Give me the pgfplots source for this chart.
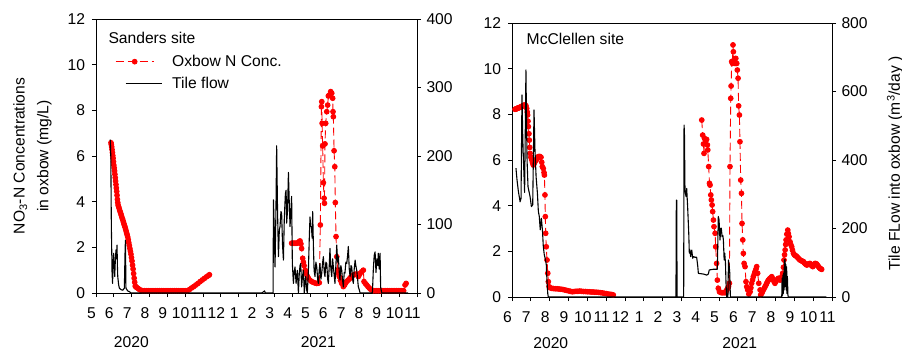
\documentclass[border=0pt]{standalone}
\usepackage{fontspec}
\setmainfont{Liberation Sans}
\usepackage{pgfplots}
\pgfplotsset{compat=1.18}
\newcommand{\fs}{\fontsize{15.7}{18}\selectfont}
\pgfplotsset{
  base/.style={
    scale only axis, height=274bp, clip=false,
    font=\fs, tick label style={font=\fs},
    /pgf/number format/assume math mode=true,
    tick align=outside, major tick length=4bp,
    axis line style={black, line width=0.8pt},
    every tick/.style={black, line width=0.8pt},
    xticklabel style={xshift=-4.5bp, yshift=-7bp},
  },
  redser/.style={red, line width=0.9pt, dash pattern=on 8bp off 4bp, mark=*, mark size=2.4pt, mark options={solid, fill=red, draw=red}},
  blkser/.style={black, line width=1.1pt, line join=round},
  legend image code/.code={\draw[mark repeat=2,mark phase=2,#1] plot coordinates {(0bp,0bp) (19bp,0bp) (38bp,0bp)}; \path (0bp,0bp) (46bp,0bp);},
  tileleg/.style={legend image code/.code={\draw[black, line width=1.1pt] (10bp,0bp)--(46bp,0bp); \path (0bp,0bp) (46bp,0bp);}},
}
\begin{document}
\begin{tikzpicture}
\useasboundingbox (0,0) rectangle (902bp,351bp);
% ---------------- Left panel (Sanders) ----------------
\begin{axis}[base, at={(96bp,58bp)}, anchor=south west, width=321bp,
  xmin=5, xmax=23, ymin=0, ymax=12,
  xtick={5,...,23}, xticklabels={5,6,7,8,9,10,11,12,1,2,3,4,5,6,7,8,9,10,11},
  ytick={0,2,...,12}, xtick pos=left, ytick pos=left,
  yticklabel style={xshift=-3.5bp},
  legend cell align=left,
  legend style={draw=none, fill=none, at={(axis description cs:0.050,0.883)}, anchor=north west, row sep=5bp, column sep=8bp, font=\fs},
]
\addplot[redser, forget plot] coordinates {(5.84,6.58)(5.86,6.50)(5.88,6.40)(5.90,6.28)(5.92,6.15)(5.94,6.02)(5.96,5.90)(5.98,5.75)(6.00,5.60)(6.02,5.48)(6.04,5.35)(6.06,5.20)(6.08,5.05)(6.10,4.90)(6.12,4.75)(6.14,4.60)(6.16,4.45)(6.18,4.28)(6.20,4.10)(6.22,3.96)(6.24,3.85)(6.27,3.78)(6.30,3.70)(6.33,3.62)(6.36,3.55)(6.39,3.48)(6.42,3.40)(6.45,3.32)(6.48,3.25)(6.51,3.18)(6.54,3.10)(6.57,3.02)(6.60,2.95)(6.63,2.88)(6.66,2.80)(6.69,2.71)(6.72,2.62)(6.75,2.54)(6.78,2.45)(6.81,2.33)(6.84,2.20)(6.87,2.08)(6.90,1.95)(6.93,1.83)(6.96,1.70)(6.99,1.55)(7.02,1.40)(7.05,1.22)(7.08,1.05)(7.11,0.85)(7.14,0.65)(7.17,0.47)(7.20,0.30)(7.24,0.27)(7.28,0.24)(7.36,0.20)(7.44,0.15)(7.52,0.12)(7.60,0.10)(7.72,0.10)(7.84,0.10)(7.96,0.10)(8.08,0.10)(8.20,0.10)(8.32,0.10)(8.44,0.10)(8.56,0.10)(8.68,0.10)(8.80,0.10)(8.92,0.10)(9.04,0.10)(9.16,0.10)(9.28,0.10)(9.40,0.10)(9.52,0.10)(9.64,0.10)(9.76,0.10)(9.88,0.10)(10.00,0.10)(10.12,0.10)(10.24,0.15)(10.36,0.22)(10.48,0.28)(10.60,0.35)(10.72,0.42)(10.84,0.50)(10.96,0.57)(11.08,0.64)(11.20,0.71)(11.30,0.76)(11.36,0.80)};
\addplot[redser, forget plot] coordinates {(15.97,2.18)(16.03,2.18)(16.09,2.18)(16.15,2.18)(16.21,2.18)(16.27,2.18)(16.33,2.20)(16.39,2.25)(16.44,2.28)(16.49,2.15)(16.53,1.95)(16.59,1.52)(16.63,1.35)(16.67,1.20)(16.73,1.00)(16.78,0.86)(16.84,0.75)(16.91,0.65)(17.00,0.56)(17.09,0.50)(17.18,0.47)(17.27,0.44)(17.38,0.42)(17.45,0.43)(17.52,0.45)(17.58,2.98)(17.64,8.16)(17.66,8.38)(17.68,7.43)(17.71,6.44)(17.75,4.83)(17.79,4.15)(17.81,3.93)(17.84,6.53)(17.88,7.43)(17.94,7.94)(17.99,8.23)(18.03,8.63)(18.09,8.67)(18.16,8.82)(18.22,8.75)(18.27,8.53)(18.29,7.94)(18.31,7.72)(18.35,6.23)(18.39,5.53)(18.42,3.96)(18.46,2.47)(18.50,1.59)(18.55,1.01)(18.60,0.85)(18.64,0.72)(18.71,0.55)(18.78,0.42)(18.87,0.28)(18.94,0.35)(19.01,0.45)(19.08,0.52)(19.15,0.57)(19.22,0.63)(19.29,0.70)(19.36,0.75)(19.43,0.79)(19.53,0.82)(19.62,0.83)(19.71,0.72)(19.76,0.80)(19.81,0.86)(19.90,0.93)(19.99,1.00)(20.03,0.50)(20.10,0.42)(20.18,0.35)(20.25,0.28)(20.32,0.22)(20.39,0.17)(20.46,0.13)(20.55,0.10)(20.65,0.10)(20.75,0.10)(20.85,0.10)(20.95,0.10)(21.05,0.10)(21.15,0.10)(21.25,0.10)(21.35,0.10)(21.45,0.10)(21.55,0.10)(21.65,0.10)(21.75,0.10)(21.85,0.10)(21.95,0.10)(22.05,0.10)(22.15,0.10)(22.25,0.10)(22.33,0.35)(22.39,0.42)};
\addlegendimage{redser}
\addlegendentry{Oxbow N Conc.}
\addlegendimage{tileleg}
\addlegendentry{Tile flow}
\node[anchor=base west, font=\fs] at (axis description cs:0.028,0.911) {Sanders site};
\node[rotate=90, align=center, font=\fs] at (axis description cs:-0.198,0.5) {NO\textsubscript{3}-N Concentrations\\[6bp]in oxbow (mg/L)};
\node[font=\fs] at (axis cs:6.98,0) [yshift=-49bp] {2020};
\node[font=\fs] at (axis cs:17.47,0) [yshift=-49bp] {2021};
\end{axis}
\begin{axis}[base, at={(96bp,58bp)}, anchor=south west, width=321bp,
  xmin=5, xmax=23, ymin=0, ymax=400, ytick={0,100,...,400},
  axis y line*=right, axis x line=none,
  yticklabel style={xshift=2bp},
]
\addplot[blkser] coordinates {(5.80,224)(5.83,200)(5.86,100)(5.90,30)(5.93,14)(5.96,45)(5.99,58)(6.02,38)(6.05,24)(6.08,45)(6.12,63)(6.15,50)(6.18,70)(6.20,40)(6.22,24)(6.27,12)(6.31,7)(6.40,5)(6.50,4)(6.59,7)(6.63,60)(6.65,77)(6.67,30)(6.68,7)(6.78,3)(6.87,2)(6.96,0)(14.30,0)(14.40,2)(14.45,3)(14.50,0)(14.93,0)(14.95,136)(15.00,90)(15.04,38)(15.09,120)(15.13,215)(15.18,120)(15.23,53)(15.28,92)(15.32,97)(15.37,119)(15.41,116)(15.46,70)(15.51,48)(15.56,110)(15.62,145)(15.66,150)(15.69,102)(15.74,120)(15.79,176)(15.84,130)(15.88,97)(15.93,120)(15.97,141)(16.01,43)(16.07,14)(16.11,30)(16.16,38)(16.22,14)(16.26,25)(16.29,33)(16.35,0)(16.40,29)(16.44,40)(16.48,43)(16.53,9)(16.58,25)(16.63,33)(16.68,0)(16.72,15)(16.76,24)(16.81,5)(16.85,0)(16.91,33)(16.96,80)(17.00,111)(17.04,97)(17.08,97)(17.12,80)(17.15,119)(17.19,70)(17.23,33)(17.28,24)(17.33,45)(17.38,38)(17.43,20)(17.47,14)(17.52,35)(17.56,43)(17.61,20)(17.66,29)(17.71,45)(17.75,53)(17.80,30)(17.84,24)(17.89,45)(17.94,43)(17.99,20)(18.03,14)(18.08,40)(18.12,65)(18.17,35)(18.22,24)(18.27,50)(18.31,38)(18.36,25)(18.40,14)(18.45,40)(18.50,70)(18.55,45)(18.59,53)(18.64,30)(18.68,19)(18.73,40)(18.78,33)(18.82,20)(18.87,9)(18.92,30)(18.96,29)(19.01,45)(19.06,43)(19.11,55)(19.15,68)(19.20,35)(19.25,24)(19.30,40)(19.34,38)(19.39,20)(19.43,14)(19.48,35)(19.53,48)(19.57,40)(19.62,33)(19.67,20)(19.71,9)(19.76,5)(19.81,0)(20.50,0)(20.55,34)(20.60,55)(20.65,60)(20.70,30)(20.75,50)(20.80,40)(20.83,58)(20.88,35)(20.93,58)(20.96,9)(21.02,0)(22.50,0)};
\end{axis}
% ---------------- Right panel (McClellen) ----------------
\begin{axis}[base, at={(512bp,54bp)}, anchor=south west, width=320bp,
  xmin=6, xmax=23, ymin=0, ymax=12,
  xtick={6,...,23}, xticklabels={6,7,8,9,10,11,12,1,2,3,4,5,6,7,8,9,10,11},
  ytick={0,2,...,12}, xtick pos=left, ytick pos=left,
  yticklabel style={xshift=-3.5bp},
]
\addplot[redser] coordinates {(6.16,8.22)(6.19,8.23)(6.22,8.24)(6.25,8.25)(6.28,8.26)(6.31,8.27)(6.34,8.28)(6.37,8.29)(6.40,8.30)(6.43,8.31)(6.46,8.32)(6.49,8.33)(6.52,8.35)(6.55,8.36)(6.58,8.38)(6.61,8.39)(6.64,8.40)(6.69,8.41)(6.74,8.38)(6.78,8.26)(6.81,8.10)(6.83,7.97)(6.85,7.70)(6.87,7.46)(6.90,7.15)(6.92,6.87)(6.94,6.55)(6.96,6.29)(7.00,6.12)(7.05,6.00)(7.09,5.88)(7.13,5.78)(7.18,5.85)(7.22,5.93)(7.27,5.98)(7.31,6.03)(7.36,6.10)(7.40,6.15)(7.45,6.15)(7.49,6.15)(7.54,6.12)(7.58,5.90)(7.61,5.71)(7.66,5.63)(7.70,5.45)(7.72,5.34)(7.75,4.47)(7.77,3.52)(7.79,2.79)(7.82,2.20)(7.86,1.62)(7.90,1.04)(7.93,0.67)(7.97,0.45)(8.04,0.40)(8.11,0.38)(8.2,0.37)(8.3,0.36)(8.4,0.36)(8.5,0.35)(8.6,0.34)(8.7,0.33)(8.8,0.31)(8.9,0.29)(9.0,0.27)(9.1,0.25)(9.2,0.23)(9.3,0.24)(9.4,0.25)(9.5,0.25)(9.6,0.26)(9.7,0.25)(9.8,0.24)(9.9,0.24)(10.0,0.23)(10.1,0.23)(10.2,0.22)(10.3,0.22)(10.4,0.21)(10.5,0.21)(10.6,0.20)(10.7,0.19)(10.8,0.18)(10.9,0.16)(11.0,0.15)(11.1,0.13)(11.2,0.12)(11.3,0.11)(11.38,0.09)};
\addplot[redser] coordinates {(16.08,7.75)(16.13,7.09)(16.17,6.70)(16.20,6.29)(16.22,6.95)(16.26,6.73)(16.29,6.87)(16.34,6.90)(16.38,6.66)(16.40,6.44)(16.45,5.71)(16.49,4.98)(16.52,4.90)(16.56,4.47)(16.59,4.25)(16.63,4.03)(16.66,3.74)(16.70,3.37)(16.73,3.08)(16.79,2.79)(16.82,2.20)(16.87,1.47)(16.91,0.74)(16.96,0.38)(17.02,0.23)(17.08,0.20)(17.14,0.19)(17.20,0.19)(17.26,0.19)(17.32,0.19)(17.37,0.25)(17.41,0.31)(17.46,0.38)(17.50,0.45)(17.55,0.60)(17.58,5.71)(17.62,8.70)(17.64,9.24)(17.67,10.31)(17.71,10.23)(17.74,11.04)(17.76,10.74)(17.80,10.38)(17.85,10.23)(17.89,10.45)(17.94,10.23)(17.97,9.94)(18.01,9.58)(18.04,8.37)(18.08,7.97)(18.11,6.80)(18.15,5.12)(18.19,4.54)(18.22,3.22)(18.26,2.50)(18.29,1.91)(18.33,1.47)(18.38,1.33)(18.43,0.67)(18.47,0.45)(18.52,0.31)(18.58,0.13)(18.65,0.23)(18.69,0.40)(18.73,0.60)(18.78,0.75)(18.82,0.89)(18.87,1.00)(18.91,1.11)(18.96,1.22)(19.00,1.33)(19.05,1.04)(19.11,0.60)(19.18,0.31)(19.21,0.09)(19.27,0.16)(19.31,0.24)(19.35,0.31)(19.40,0.38)(19.44,0.45)(19.49,0.52)(19.53,0.60)(19.58,0.68)(19.62,0.74)(19.67,0.78)(19.71,0.82)(19.76,0.85)(19.80,0.89)(19.85,0.80)(19.89,0.74)(19.93,0.66)(19.97,0.60)(20.02,0.68)(20.06,0.74)(20.11,0.78)(20.15,0.82)(20.20,0.78)(20.24,0.74)(20.29,0.80)(20.33,0.89)(20.38,1.04)(20.42,1.30)(20.45,1.62)(20.48,1.85)(20.51,2.06)(20.54,2.30)(20.56,2.50)(20.60,2.75)(20.65,2.93)(20.68,2.78)(20.72,2.64)(20.77,2.42)(20.81,2.30)(20.86,2.20)(20.90,2.05)(20.95,1.91)(21.00,1.85)(21.04,1.82)(21.09,1.80)(21.13,1.77)(21.17,1.73)(21.22,1.69)(21.26,1.65)(21.30,1.62)(21.35,1.60)(21.39,1.58)(21.44,1.56)(21.48,1.55)(21.52,1.50)(21.57,1.46)(21.61,1.43)(21.66,1.40)(21.70,1.42)(21.75,1.45)(21.79,1.46)(21.83,1.47)(21.87,1.42)(21.92,1.37)(21.98,1.33)(22.02,1.38)(22.06,1.43)(22.10,1.47)(22.15,1.46)(22.19,1.44)(22.24,1.38)(22.28,1.33)(22.33,1.28)(22.37,1.25)(22.41,1.23)(22.45,1.21)};
\node[anchor=base west, font=\fs] at (axis description cs:0.035,0.922) {McClellen site};
\node[font=\fs] at (axis cs:8.06,0) [yshift=-46.5bp] {2020};
\node[font=\fs] at (axis cs:18.10,0) [yshift=-46bp] {2021};
\end{axis}
\begin{axis}[base, at={(512bp,54bp)}, anchor=south west, width=320bp,
  xmin=6, xmax=23, ymin=0, ymax=800, ytick={0,200,...,800},
  axis y line*=right, axis x line=none,
  yticklabel style={xshift=2bp},
]
\addplot[blkser] coordinates {(6.21,376)(6.27,340)(6.34,308)(6.43,278)(6.48,288)(6.53,590)(6.57,470)(6.60,410)(6.67,305)(6.74,663)(6.77,520)(6.80,400)(6.85,322)(6.96,293)(7.03,264)(7.10,269)(7.17,546)(7.22,429)(7.28,351)(7.35,303)(7.40,250)(7.45,235)(7.50,196)(7.56,230)(7.62,193)(7.66,150)(7.71,125)(7.78,108)(7.82,95)(7.86,45)(7.90,10)(7.93,0)(14.71,0)(14.73,283)(14.75,283)(14.77,0)(15.12,0)(15.14,502)(15.16,480)(15.19,312)(15.22,300)(15.25,293)(15.28,317)(15.33,264)(15.39,186)(15.42,128)(15.46,137)(15.49,118)(15.55,137)(15.60,113)(15.64,118)(15.72,116)(15.81,116)(15.87,89)(15.90,69)(16.17,67)(16.34,64)(16.43,67)(16.48,79)(16.70,81)(16.91,81)(16.94,180)(16.96,235)(17.00,225)(17.02,200)(17.05,166)(17.09,201)(17.12,201)(17.16,176)(17.20,180)(17.23,166)(17.27,108)(17.30,128)(17.34,100)(17.37,40)(17.40,0)(17.47,0)(17.50,108)(17.54,89)(17.57,69)(17.60,0)(20.33,0)(20.35,55)(20.37,5)(20.39,64)(20.41,10)(20.43,70)(20.45,20)(20.47,108)(20.49,30)(20.51,110)(20.53,40)(20.55,95)(20.57,20)(20.59,88)(20.61,10)(20.63,60)(20.66,5)(20.68,0)(22.70,0)};
\node[rotate=90, font=\fs] at (axis description cs:1.197,0.487) {Tile FLow into oxbow (m\textsuperscript{3}/day )};
\end{axis}
\end{tikzpicture}
\end{document}
